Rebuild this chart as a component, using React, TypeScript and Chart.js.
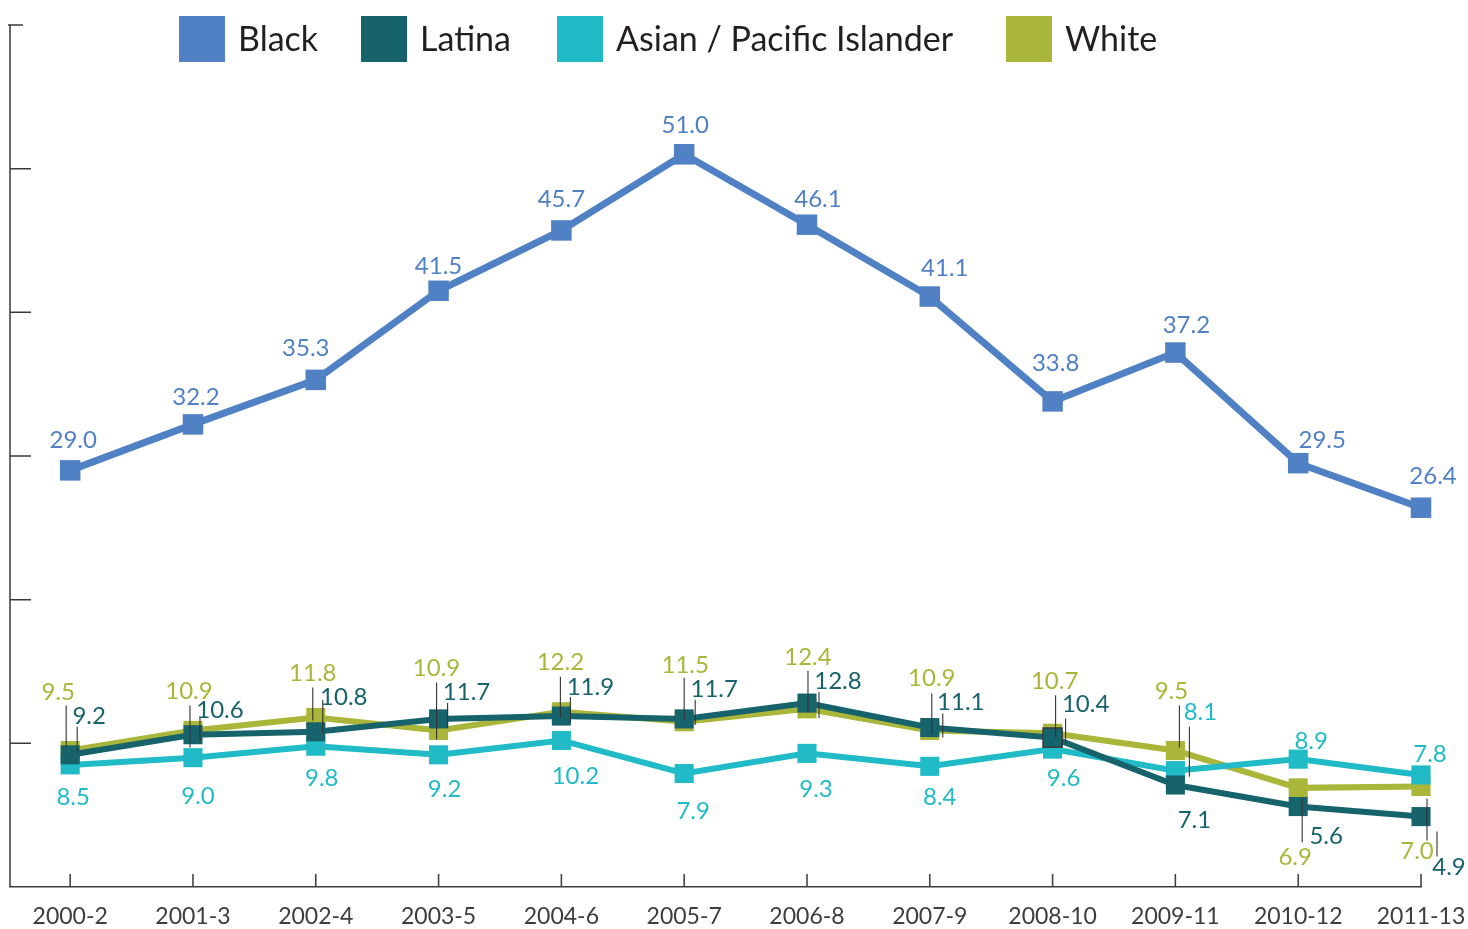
import React, { useEffect, useRef } from "react";
import { Chart, registerables } from "chart.js";

Chart.register(...registerables);

// ---------- data ----------
const periods = [
  "2000-2", "2001-3", "2002-4", "2003-5", "2004-6", "2005-7",
  "2006-8", "2007-9", "2008-10", "2009-11", "2010-12", "2011-13",
];
const seriesNames = ["Black", "Latina", "Asian / Pacific Islander", "White"];
const blackValues = [29.0, 32.2, 35.3, 41.5, 45.7, 51.0, 46.1, 41.1, 33.8, 37.2, 29.5, 26.4];
const latinaValues = [9.2, 10.6, 10.8, 11.7, 11.9, 11.7, 12.8, 11.1, 10.4, 7.1, 5.6, 4.9];
const asianValues = [8.5, 9.0, 9.8, 9.2, 10.2, 7.9, 9.3, 8.4, 9.6, 8.1, 8.9, 7.8];
const whiteValues = [9.5, 10.9, 11.8, 10.9, 12.2, 11.5, 12.4, 10.9, 10.7, 9.5, 6.9, 7.0];
const yTickValues = [0, 10, 20, 30, 40, 50, 60];

// ---------- styling / label layout (pixel offsets from each point) ----------
const COLORS = ["#4F81C4", "#17636B", "#20BBC7", "#AAB63A"];
const FONT = "Lato, 'Open Sans', sans-serif";
const legendBoxX = [179, 361, 557, 1006];

const blackLabelOffsets = [
  [3, -30], [3, -27], [-10, -32], [0, -25], [0, -31], [1, -29],
  [11, -25], [15, -28], [3, -38], [11, -27], [24, -23], [12, -31],
];
const latinaLabelOffsets = [
  [19, -39], [27, -24], [28, -35], [28, -27], [29, -29], [30, -30],
  [31, -22], [31, -25], [33, -33], [19, 35], [28, 30], [28, 51],
];
const asianLabelOffsets = [
  [3, 32], [5, 39], [6, 32], [6, 34], [14, 36], [9, 38],
  [9, 36], [10, 31], [11, 29], [25, -58], [13, -18], [9, -21],
];
const whiteLabelOffsets = [
  [-12, -58], [-4, -39], [-3, -44], [-2, -62], [-1, -49], [1, -57],
  [1, -52], [2, -52], [2, -52], [-4, -59], [-3, 69], [-4, 65],
];
// leader lines: [dx, dy1, dy2] relative to point, or null
const blackLeaders: (number[] | null)[] = periods.map(() => null);
const latinaLeaders: (number[] | null)[] = [
  [7, -28, -2], [7, -18, 7], [7, -32, 2], [9, -16, 9], [9, -19, 6], [11, -19, 6],
  [12, -11, 15], [13, -14, 10], [13, -19, 6], null, [4, -9, 36], [16, 15, 40],
];
const asianLeaders: (number[] | null)[] = [
  null, null, null, null, null, null, null, null, null, [14, -44, 6], null, null,
];
const whiteLeaders: (number[] | null)[] = [
  [-4, -45, -3], [-3, -25, 17], [-3, -30, 3], [-2, -48, 9], [-1, -35, 6], [0, -44, -2],
  [1, -38, 4], [2, -37, 4], [3, -38, 4], [4, -45, -3], null, [6, 12, 54],
];
const labelOffsets = [blackLabelOffsets, latinaLabelOffsets, asianLabelOffsets, whiteLabelOffsets];
const leaderLines = [blackLeaders, latinaLeaders, asianLeaders, whiteLeaders];

// ---------- plugins ----------
const axisMarksPlugin = {
  id: "axisMarks",
  beforeDatasetsDraw(chart: any) {
    const { ctx, chartArea, scales } = chart;
    const x = scales.x;
    const y = scales.y;
    ctx.save();
    ctx.strokeStyle = "#3a3a3a";
    ctx.lineWidth = 1.5;
    ctx.beginPath();
    ctx.moveTo(chartArea.left, chartArea.top);
    ctx.lineTo(chartArea.left, chartArea.bottom);
    yTickValues.forEach((v) => {
      if (v === 0) return;
      const py = y.getPixelForValue(v);
      const isTop = v === yTickValues[yTickValues.length - 1];
      const len = isTop ? 13 : 21;
      ctx.moveTo(chartArea.left - (isTop ? 2 : 0), py);
      ctx.lineTo(chartArea.left + len, py);
    });
    periods.forEach((_, i) => {
      const px = x.getPixelForValue(i);
      ctx.moveTo(px, chartArea.bottom);
      ctx.lineTo(px, chartArea.bottom - 13);
    });
    ctx.stroke();
    ctx.restore();
  },
};

const pointLabelsPlugin = {
  id: "pointLabels",
  afterDatasetsDraw(chart: any) {
    const { ctx } = chart;
    ctx.save();
    ctx.strokeStyle = "#333333";
    ctx.lineWidth = 1.1;
    chart.data.datasets.forEach((ds: any, di: number) => {
      const meta = chart.getDatasetMeta(di);
      meta.data.forEach((pt: any, i: number) => {
        const ld = leaderLines[di][i];
        if (!ld) return;
        ctx.beginPath();
        ctx.moveTo(pt.x + ld[0], pt.y + ld[1]);
        ctx.lineTo(pt.x + ld[0], pt.y + ld[2]);
        ctx.stroke();
      });
    });
    ctx.font = `24px ${FONT}`;
    ctx.textAlign = "center";
    ctx.textBaseline = "middle";
    chart.data.datasets.forEach((ds: any, di: number) => {
      const meta = chart.getDatasetMeta(di);
      ctx.fillStyle = ds.borderColor;
      meta.data.forEach((pt: any, i: number) => {
        const off = labelOffsets[di][i];
        ctx.fillText(ds.data[i].y.toFixed(1), pt.x + off[0], pt.y + off[1]);
      });
    });
    ctx.restore();
  },
};

const legendPlugin = {
  id: "customLegend",
  afterDraw(chart: any) {
    const { ctx } = chart;
    ctx.save();
    ctx.font = `34px ${FONT}`;
    ctx.textBaseline = "middle";
    ctx.textAlign = "left";
    const box = 46;
    const top = 16;
    chart.data.datasets.forEach((ds: any, di: number) => {
      const cx = legendBoxX[di];
      ctx.fillStyle = ds.borderColor;
      ctx.fillRect(cx, top, box, box);
      ctx.fillStyle = "#231F20";
      ctx.fillText(ds.label, cx + box + 13, top + box / 2 + 1);
    });
    ctx.restore();
  },
};

export default function App() {
  const canvasRef = useRef<HTMLCanvasElement | null>(null);

  useEffect(() => {
    if (!canvasRef.current) return;
    const allValues = [blackValues, latinaValues, asianValues, whiteValues];
    const chart = new Chart(canvasRef.current, {
      type: "line",
      data: {
        datasets: allValues.map((vals, di) => ({
          label: seriesNames[di],
          data: vals.map((v, i) => ({ x: i, y: v })),
          borderColor: COLORS[di],
          backgroundColor: COLORS[di],
          pointBackgroundColor: COLORS[di],
          pointBorderColor: "#3a3a3a",
          pointBorderWidth: vals.map((_, i) => (di === 1 && i === 8 ? 1.5 : 0)),
          borderWidth: di === 0 ? 7 : 6,
          pointStyle: "rect",
          pointRadius: di === 0 ? 14.5 : 13.5,
          tension: 0,
          fill: false,
          clip: false,
        })),
      },
      options: {
        animation: false,
        responsive: true,
        maintainAspectRatio: false,
        layout: { autoPadding: false, padding: { left: 10, right: 47, top: 25, bottom: -18 } },
        plugins: {
          legend: { display: false },
          tooltip: { enabled: false },
        },
        scales: {
          x: {
            type: "linear",
            min: -0.49,
            max: 11,
            grid: { display: false, drawTicks: false },
            border: { display: true, color: "#3a3a3a", width: 1.5 },
            afterBuildTicks: (scale: any) => {
              scale.ticks = periods.map((_, i) => ({ value: i }));
            },
            ticks: {
              autoSkip: false,
              maxRotation: 0,
              padding: 0,
              color: "#3d3d3d",
              font: { family: FONT, size: 23, lineHeight: "60px" },
              callback: (v: any) => periods[v] ?? "",
            },
          },
          y: {
            display: false,
            min: 0,
            max: 60,
          },
        },
      },
      plugins: [axisMarksPlugin, pointLabelsPlugin, legendPlugin],
    });
    return () => chart.destroy();
  }, []);

  return (
    <div style={{ position: "fixed", left: 0, top: 0, width: "1468px", height: "929px", background: "#ffffff" }}>
      <canvas ref={canvasRef} />
    </div>
  );
}
